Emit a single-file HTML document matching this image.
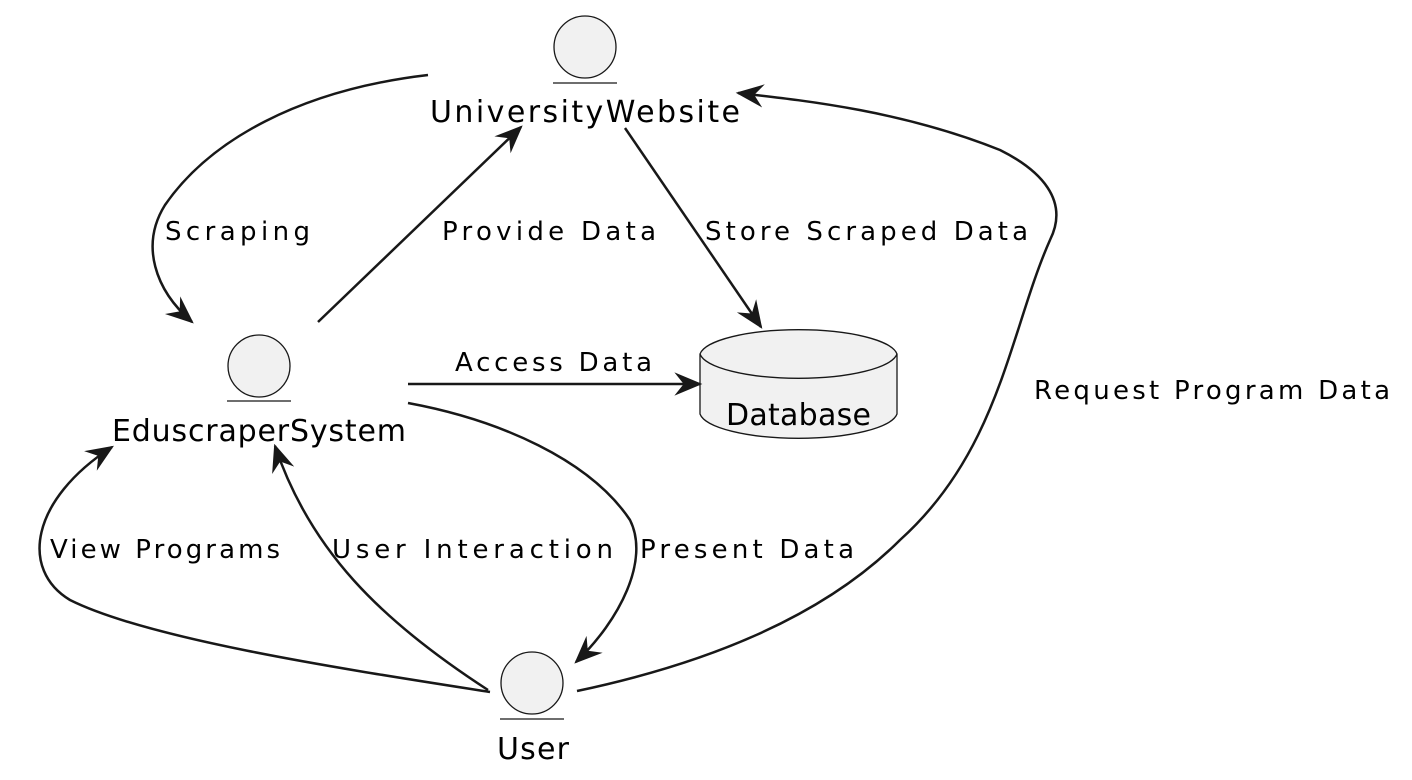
<!DOCTYPE html>
<html><head><meta charset="utf-8"><style>
html,body{margin:0;padding:0;background:#fff;}
svg{display:block;}
text{font-family:"DejaVu Sans","Liberation Sans",sans-serif;fill:#000;}
.n{font-size:30px;}
.l{font-size:26px;}
</style></head><body>
<svg width="1412" height="780" viewBox="0 0 1412 780" xmlns="http://www.w3.org/2000/svg">
<defs>
<marker id="a" markerUnits="userSpaceOnUse" markerWidth="28" markerHeight="28" viewBox="0 0 24 20" refX="22" refY="10" orient="auto">
<path d="M0,0 L24,10 L0,20 L8,10 Z" fill="#181818"/>
</marker>
</defs>
<g fill="#f1f1f1" stroke="#181818" stroke-width="1.3">
<circle cx="585" cy="47" r="31"/>
<line x1="553" y1="83" x2="617" y2="83"/>
<circle cx="259" cy="366" r="31"/>
<line x1="227" y1="401" x2="291" y2="401"/>
<circle cx="532" cy="683" r="31"/>
<line x1="500" y1="719" x2="564" y2="719"/>
<path d="M700,354 L700,414 A99,27 0 0 0 897,414 L897,354 A99,27 0 0 0 700,354 Z"/>
<path d="M700,354 A99,27 0 0 0 897,354" fill="none"/>
</g>
<text class="n" x="430" y="122" textLength="310" lengthAdjust="spacing">UniversityWebsite</text>
<text class="n" x="112" y="441" textLength="294" lengthAdjust="spacing">EduscraperSystem</text>
<text class="n" x="497" y="759" textLength="72" lengthAdjust="spacing">User</text>
<text class="n" x="726" y="425" textLength="145" lengthAdjust="spacing">Database</text>
<g fill="none" stroke="#181818" stroke-width="2.5" marker-end="url(#a)">
<path d="M428,75 C300,90 210,140 165,205 C140,245 155,290 192,322"/>
<path d="M318,322 L521,127"/>
<path d="M625,128 L761,327"/>
<path d="M408,384 L700,384"/>
<path d="M577,691 C700,665 820,620 900,540 C1000,450 1010,330 1050,240 C1070,200 1040,170 1000,150 C900,110 800,100 738,93"/>
<path d="M408,403 C500,420 590,460 630,520 C650,560 620,620 576,662"/>
<path d="M488,690 C380,620 310,550 275,446"/>
<path d="M490,692 C350,670 150,640 70,600 C20,570 30,500 112,447"/>
</g>
<g class="l">
<text x="165" y="240" textLength="145" lengthAdjust="spacing">Scraping</text>
<text x="442" y="240" textLength="214" lengthAdjust="spacing">Provide Data</text>
<text x="705" y="240" textLength="323" lengthAdjust="spacing">Store Scraped Data</text>
<text x="455" y="371" textLength="197" lengthAdjust="spacing">Access Data</text>
<text x="1034" y="399" textLength="356" lengthAdjust="spacing">Request Program Data</text>
<text x="50" y="558" textLength="230" lengthAdjust="spacing">View Programs</text>
<text x="332" y="558" textLength="281" lengthAdjust="spacing">User Interaction</text>
<text x="640" y="558" textLength="214" lengthAdjust="spacing">Present Data</text>
</g>
</svg>
</body></html>
